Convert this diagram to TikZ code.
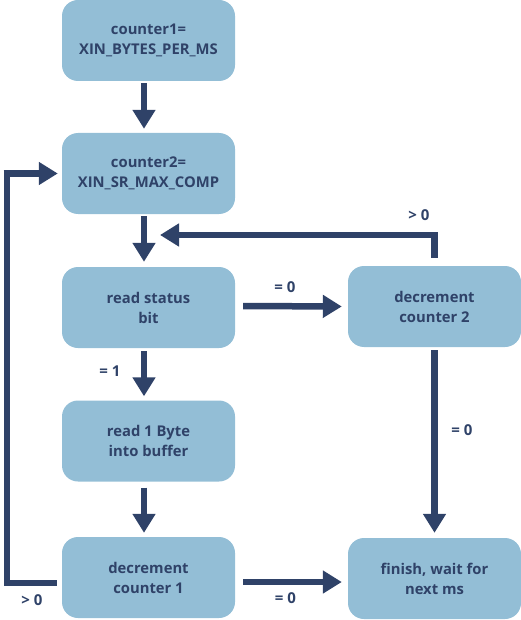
\documentclass[tikz,border=0pt]{standalone}
\usepackage{fontspec}
\setmainfont{Open Sans}
\usetikzlibrary{arrows.meta,calc}
\definecolor{boxfill}{HTML}{93BED6}
\definecolor{navy}{HTML}{2F4268}
\begin{document}
\begin{tikzpicture}[x=1pt,y=-1pt,
  box/.style={fill=boxfill,rounded corners=16pt,minimum width=173pt,minimum height=81pt,inner sep=0pt,
    align=center,text=navy,font=\fontsize{14.8}{20}\selectfont\bfseries},
  flow/.style={draw=navy,line width=6.5pt,-{Triangle[length=19pt,width=22pt]}},
  lbl/.style={text=navy,font=\fontsize{15}{16}\selectfont\bfseries,inner sep=0pt}]
\useasboundingbox (0,0) rectangle (521,620);
\node[box] (b1) at (148.5,40.5) {counter1=\\XIN\_BYTES\_PER\_MS};
\node[box] (b2) at (148.5,173.5) {counter2=\\XIN\_SR\_MAX\_COMP};
\node[box] (b3) at (148.5,307.5) {read status\\bit};
\node[box] (b4) at (148.5,441) {read 1 Byte\\into buffer};
\node[box] (b5) at (148.5,577.5) {decrement\\counter 1};
\node[box] (d2) at (434.5,306.5) {decrement\\counter 2};
\node[box] (fin) at (434.5,578.5) {finish, wait for\\next ms};
% vertical main arrows
\draw[flow] ($(b1.south)+(-4.5,2)$) -- ($(b2.north)+(-4.5,-4)$);
\draw[flow] ($(b2.south)+(-4.5,2)$) -- ($(b3.north)+(-4.5,-5)$);
\draw[flow] ($(b3.south)+(-4.5,3)$) -- ($(b4.north)+(-4.5,-4)$);
\draw[flow] ($(b4.south)+(-4.5,6)$) -- ($(b5.north)+(-4.5,-4)$);
% horizontal arrows
\draw[flow] ($(b3.east)+(8,-1.5)$) -- ($(d2.west)+(-6,0)$);
\draw[flow] ($(b5.east)+(8,4.5)$) -- ($(fin.west)+(-6,3.5)$);
% right vertical
\draw[flow] ($(d2.south)+(0,3)$) -- ($(fin.north)+(0,-5)$);
% feedback from decrement counter 2
\coordinate (t1) at ($(d2.north)+(0,-8)$);
\coordinate (t2) at (434.5,235);
\coordinate (t3) at (160,235);
\draw[flow,-] (t1) -- (t2) -- ++(-3.25,0);
\draw[flow] (t2) ++(3.25,0) -- (t3);
% left loop
\coordinate (l1) at ($(b5.west)+(-5,5.5)$);
\coordinate (l2) at (7,583);
\coordinate (l3) at (7,173.5);
\coordinate (l4) at ($(b2.west)+(-4,0)$);
\draw[draw=navy,line width=6.5pt] (l1) -- (l2) -- (l3) -- ($(l4)+(-18,0)$);
\draw[flow,shorten <=-0.1pt] ($(l3)+(-3.25,0)$) -- (l4);
% labels
\node[lbl] (g1) at (419,215.5) {> 0};
\node[lbl] (e1) at (285,287) {= 0};
\node[lbl] (o1) at (110,371) {= 1};
\node[lbl] (e2) at (462,430) {= 0};
\node[lbl] (g2) at (32,600) {> 0};
\node[lbl] (e3) at (285.5,598.5) {= 0};
\end{tikzpicture}
\end{document}
